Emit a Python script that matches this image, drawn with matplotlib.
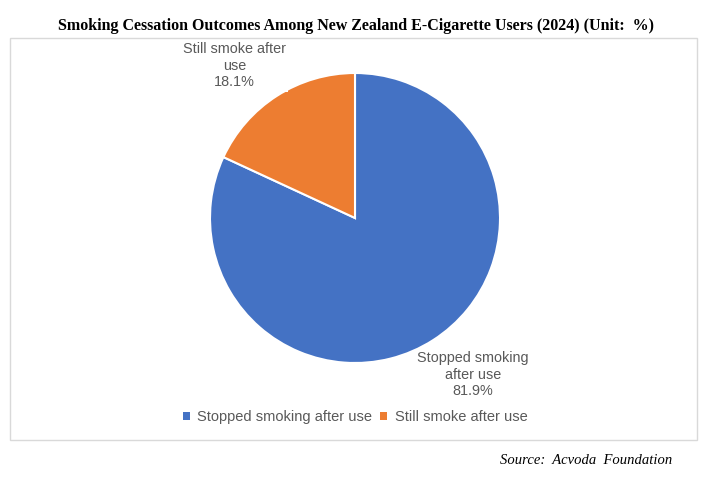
import matplotlib
matplotlib.use("Agg")
import matplotlib.pyplot as plt
from matplotlib.patches import Rectangle

categories = ["Stopped smoking after use", "Still smoke after use"]
label_texts = ["Stopped smoking\nafter use", "Still smoke after\nuse"]
values = [81.9, 18.1]
colors = ["#4472C4", "#ED7D31"]

W, H = 712, 478
fig = plt.figure(figsize=(W / 100, H / 100), dpi=100)
fig.patch.set_facecolor("white")

def fx(px):
    return px / W

def fy(py):
    return 1 - py / H

# chart border
fig.patches.append(Rectangle((fx(10), fy(440)), fx(697) - fx(10), fy(38) - fy(440),
                             transform=fig.transFigure, fill=False,
                             edgecolor="#d9d9d9", linewidth=1.0))

cx, cy, r = 355, 218, 145
ax = fig.add_axes([fx(cx - r), fy(cy + r), 2 * r / W, 2 * r / H])
wedges, _ = ax.pie(values, colors=colors, startangle=90, counterclock=False,
                   radius=1.0, wedgeprops=dict(edgecolor="white", linewidth=1.5))
ax.set_xlim(-1, 1)
ax.set_ylim(-1, 1)
ax.set_aspect("equal")
ax.axis("off")

label_pos = [(0.815, -1.08), (-0.83, 1.05)]
for (lx, ly), t, v in zip(label_pos, label_texts, values):
    ax.text(lx, ly, f"{t}\n{v}%", ha="center", va="center", fontsize=10.4,
            color="#595959", family="Liberation Sans", linespacing=1.25,
            bbox=dict(facecolor="white", edgecolor="none", pad=1.5), clip_on=False,
            zorder=5)

fig.text(0.5, fy(26), "Smoking Cessation Outcomes Among New Zealand E-Cigarette Users (2024) (Unit:  %)",
         ha="center", va="center", fontsize=11.5, fontweight="bold", family="Liberation Serif")

leg = fig.legend(wedges, categories, loc="center", bbox_to_anchor=(fx(355), fy(417)),
                 ncol=2, frameon=False, handlelength=0.5, handleheight=0.5,
                 handletextpad=0.5, columnspacing=0.55,
                 prop=dict(family="Liberation Sans", size=10.5))
for t in leg.get_texts():
    t.set_color("#595959")
for h in leg.legend_handles:
    h.set_edgecolor("none")

fig.text(fx(672), fy(461), "Source:  Acvoda  Foundation", ha="right", va="center",
         fontsize=10.5, fontstyle="italic", family="Liberation Serif")

fig.savefig("out.png", dpi=100)
